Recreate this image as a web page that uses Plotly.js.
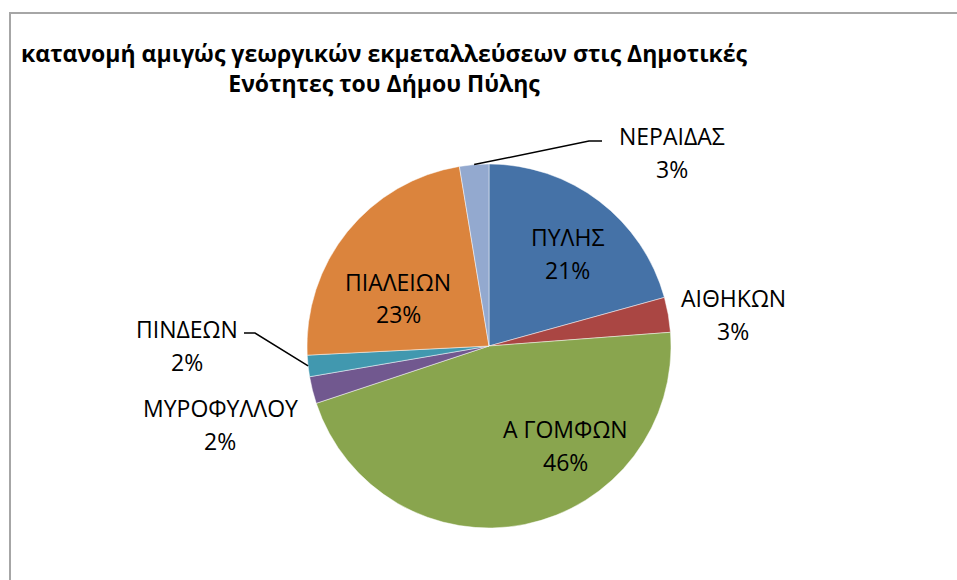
<!DOCTYPE html>
<html>
<head>
<meta charset="utf-8">
<script src="https://cdn.plot.ly/plotly-3.0.1.min.js"></script>
<style>
  html, body { margin: 0; padding: 0; background: #ffffff; }
  #contenedor { position: relative; width: 957px; height: 580px; overflow: hidden; }
  #grafico { width: 957px; height: 580px; }
  #marco {
    position: absolute; left: 9px; top: 12px; width: 1000px; height: 700px;
    border-left: 2px solid #a6a6a6; border-top: 2px solid #a6a6a6;
    pointer-events: none;
  }
</style>
</head>
<body>
<div id="contenedor">
  <div id="grafico"></div>
  <div id="marco"></div>
</div>
<script>
/* datos: κατανομή αμιγώς γεωργικών εκμεταλλεύσεων (%) */
const rotulos = ["ΠΥΛΗΣ", "ΑΙΘΗΚΩΝ", "Α ΓΟΜΦΩΝ", "ΜΥΡΟΦΥΛΛΟΥ", "ΠΙΝΔΕΩΝ", "ΠΙΑΛΕΙΩΝ", "ΝΕΡΑΙΔΑΣ"];
const valores = [20.7, 3.1, 46.1, 2.4, 1.9, 23.2, 2.6];
const colores = ["#4572A7", "#AA4643", "#89A54E", "#71588F", "#4198AF", "#DB843D", "#93A9CF"];

// ---------------------------------------------------------------------
// geometria (pixeles de la ventana 957x580)
// ---------------------------------------------------------------------
const ANCHO = 957, ALTO = 580;
const CENTRO = [489, 346];
const RADIO = 182;
const SEP_LINEAS = 33;

// centro de cada etiqueta (nombre arriba, porcentaje abajo)
const posEtiquetas = [[567, 253], [733, 314], [565, 445], [220, 424], [187, 345], [398, 298], [672, 152]];
// guias: codo y final de la linea, por indice de sector
const guias = {
  6: [[589, 141], [602, 141]],
  4: [[255, 333], [244, 333]],
};

const px = (x) => x / ANCHO;
const py = (y) => 1 - y / ALTO;

const fuente = "Open Sans, Noto Sans, DejaVu Sans, sans-serif";

function construirAnotaciones() {
  const total = valores.reduce((a, b) => a + b, 0);
  const notas = [];
  rotulos.forEach((r, i) => {
    const [cx, cy] = posEtiquetas[i];
    const pct = Math.round((valores[i] / total) * 100) + "%";
    [[r, cy - SEP_LINEAS / 2], [pct, cy + SEP_LINEAS / 2]].forEach(([txt, y]) => {
      notas.push({
        text: txt, x: px(cx), y: py(y), xref: "paper", yref: "paper",
        xanchor: "center", yanchor: "middle", showarrow: false,
        font: { family: fuente, size: 23, color: "#000000" },
      });
    });
  });
  return notas;
}

function construirGuias() {
  const total = valores.reduce((a, b) => a + b, 0);
  const formas = [];
  let acumulado = 0;
  valores.forEach((v, i) => {
    const medio = ((acumulado + v / 2) / total) * 2 * Math.PI;
    acumulado += v;
    if (!guias[i]) return;
    const borde = [CENTRO[0] + RADIO * Math.sin(medio), CENTRO[1] - RADIO * Math.cos(medio)];
    const puntos = [borde, ...guias[i]];
    const camino = puntos.map((p, k) => `${k === 0 ? "M" : "L"} ${px(p[0])} ${py(p[1])}`).join(" ");
    formas.push({
      type: "path", xref: "paper", yref: "paper", path: camino,
      line: { color: "#000000", width: 1.5 },
    });
  });
  return formas;
}

const trazaPie = {
  type: "pie",
  labels: rotulos,
  values: valores,
  sort: false,
  direction: "clockwise",
  rotation: 0,
  textinfo: "none",
  hoverinfo: "label+percent",
  marker: { colors: colores, line: { color: "rgba(255,255,255,0.6)", width: 0.8 } },
  domain: {
    x: [px(CENTRO[0] - RADIO), px(CENTRO[0] + RADIO)],
    y: [py(CENTRO[1] + RADIO), py(CENTRO[1] - RADIO)],
  },
};

const layout = {
  width: ANCHO,
  height: ALTO,
  margin: { l: 0, r: 0, t: 0, b: 0 },
  paper_bgcolor: "#ffffff",
  showlegend: false,
  title: {
    text: "<b>κατανομή αμιγώς γεωργικών εκμεταλλεύσεων στις Δημοτικές<br>Ενότητες του Δήμου Πύλης</b>",
    x: 384 / ANCHO, xanchor: "center",
    y: 1 - 62 / ALTO, yanchor: "top", yref: "container",
    font: { family: fuente, size: 23, color: "#000000" },
  },
  annotations: construirAnotaciones(),
  shapes: construirGuias(),
};

Plotly.newPlot("grafico", [trazaPie], layout, { displayModeBar: false, staticPlot: true });
</script>
</body>
</html>
